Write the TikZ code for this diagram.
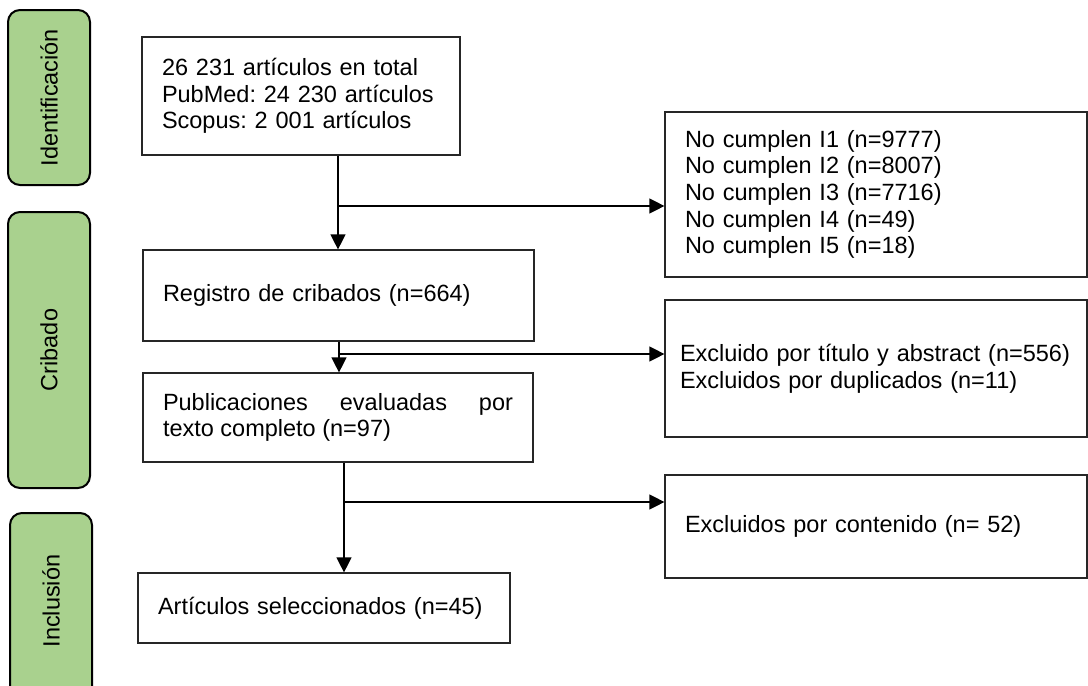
\documentclass[tikz,border=0pt]{standalone}
\usepackage{fontspec}
\setmainfont{Liberation Sans}
\usepackage{xcolor}
\definecolor{PhaseGreen}{HTML}{A9D18E}
\definecolor{BoxLine}{HTML}{262626}
\usetikzlibrary{arrows.meta}
\hyphenpenalty=10000
\frenchspacing
\newcommand{\boxfont}{\fontsize{11.75pt}{13.3pt}\selectfont}
\tikzset{
	phase/.style={draw=black,line width=1pt,fill=PhaseGreen,rounded corners=6pt,rotate=90,inner sep=0pt,minimum height=41pt,font=\boxfont},
	stagebox/.style={draw=BoxLine,line width=0.6pt,inner xsep=10pt,inner ysep=0pt,align=left,font=\boxfont},
	flow/.style={line width=0.65pt,-{Triangle[length=7.5pt,width=7.5pt]}}
}

\begin{document}
\begin{tikzpicture}[x=0.5pt,y=-0.5pt]
		\fill[white] (0,0) rectangle (1088,686);
		\useasboundingbox (0,0) rectangle (1088,686);
		
		% phases
		\node[phase,minimum width=87.5pt] (ident) at (49,97.5) {Identificación};
		\node[phase,minimum width=138pt] (crib) at (49,350) {Cribado};
		\node[phase,minimum width=103.5pt] (incl) at (51,616.5) {};
		\node[rotate=90,font=\boxfont] (incltext) at (51,601) {Inclusión};
		
		% main column
		\node[stagebox,text width=139pt,minimum height=59pt] (total) at (301,96) {26 231 artículos en total\\PubMed: 24 230 artículos\\Scopus: 2 001 artículos};
		\node[stagebox,text width=175.5pt,minimum height=45.5pt] (registro) at (338.5,295.5) {Registro de cribados (n=664)};
		\node[stagebox,text width=175pt,minimum height=44.5pt,align=justify] (publica) at (338,417.5) {Publicaciones evaluadas por texto completo (n=97)};
		\node[stagebox,text width=166pt,minimum height=35pt] (selec) at (324,608) {Artículos seleccionados (n=45)};
		
		% excluded
		\node[stagebox,text width=191pt,minimum height=82.5pt] (nocumplen) at (876,194.5) {No cumplen I1 (n=9777)\\No cumplen I2 (n=8007)\\No cumplen I3 (n=7716)\\No cumplen I4 (n=49)\\No cumplen I5 (n=18)};
		\node[stagebox,text width=196pt,inner xsep=7.5pt,minimum height=68.5pt] (excluido) at (876,368.5) {Excluido por título y abstract (n=556)\\Excluidos por duplicados (n=11)};
		\node[stagebox,text width=191pt,minimum height=51.5pt] (contenido) at (876,526.5) {Excluidos por contenido (n= 52)};
		
		\coordinate (j1) at (338,206);
		\coordinate (j2) at (339,354);
		\coordinate (j3) at (344,502);
		
		\draw[flow] (total.south -| j1) -- (registro.north -| j1);
		\draw[flow] (j1) -- (j1 -| nocumplen.west);
		\draw[flow] (registro.south -| j2) -- (publica.north -| j2);
		\draw[flow] (j2) -- (j2 -| excluido.west);
		\draw[flow] (publica.south -| j3) -- (selec.north -| j3);
		\draw[flow] (j3) -- (j3 -| contenido.west);
		
	\end{tikzpicture}
\end{document}
